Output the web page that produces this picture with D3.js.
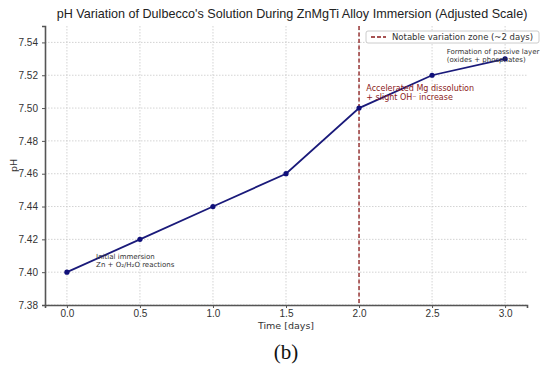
<!DOCTYPE html>
<html>
<head>
<meta charset="utf-8">
<script src="https://cdn.jsdelivr.net/npm/d3@7"></script>
<style>
  body { margin: 0; background: #fff; }
  svg { display: block; font-family: "DejaVu Sans", sans-serif; }
</style>
</head>
<body>
<svg id="chart" width="545" height="366"></svg>
<script>
const days = [0, 0.5, 1.0, 1.5, 2.0, 2.5, 3.0];
const ph = [7.40, 7.42, 7.44, 7.46, 7.50, 7.52, 7.53];
const xTicks = [0, 0.5, 1.0, 1.5, 2.0, 2.5, 3.0];
const yTicks = [7.38, 7.40, 7.42, 7.44, 7.46, 7.48, 7.50, 7.52, 7.54];
const markerDay = 2.0;

const svg = d3.select("#chart");
const mLeft = 45, mRight = 527, mTop = 26, mBottom = 305;

const x = d3.scaleLinear().domain([-0.15, 3.15]).range([mLeft, mRight]);
const y = d3.scaleLinear().domain([7.38, 7.55]).range([mBottom, mTop]);

// grid
svg.append("g").selectAll("line")
  .data(xTicks).enter().append("line")
  .attr("x1", d => x(d)).attr("x2", d => x(d))
  .attr("y1", mTop).attr("y2", mBottom)
  .attr("stroke", "#c8c8c8").attr("stroke-width", 0.8)
  .attr("stroke-dasharray", "1.5,1.5");
svg.append("g").selectAll("line")
  .data(yTicks).enter().append("line")
  .attr("x1", mLeft).attr("x2", mRight)
  .attr("y1", d => y(d)).attr("y2", d => y(d))
  .attr("stroke", "#c8c8c8").attr("stroke-width", 0.8)
  .attr("stroke-dasharray", "1.5,1.5");

// axes
const xAxis = svg.append("g")
  .attr("transform", "translate(0," + mBottom + ")")
  .call(d3.axisBottom(x).tickValues(xTicks).tickFormat(d3.format(".1f")).tickSize(3).tickPadding(2));
const yAxis = svg.append("g")
  .attr("transform", "translate(" + mLeft + ",0)")
  .call(d3.axisLeft(y).tickValues(yTicks).tickFormat(d3.format(".2f")).tickSize(3).tickPadding(4));
[xAxis, yAxis].forEach(a => {
  a.select(".domain").attr("stroke", "#555").attr("stroke-width", 1.6);
  a.selectAll(".tick line").attr("stroke", "#555");
  a.selectAll("text").attr("fill", "#333").style("font-size", "10px");
});

// notable zone line
svg.append("line")
  .attr("x1", x(markerDay)).attr("x2", x(markerDay))
  .attr("y1", mTop).attr("y2", mBottom)
  .attr("stroke", "#8b1a1a").attr("stroke-width", 1.3)
  .attr("stroke-dasharray", "4,2.5");

// data line
const line = d3.line().x((d, i) => x(days[i])).y(d => y(d));
svg.append("path")
  .datum(ph)
  .attr("d", line)
  .attr("fill", "none")
  .attr("stroke", "#1a1a7a")
  .attr("stroke-width", 1.8);
svg.selectAll("circle.pt")
  .data(ph).enter().append("circle")
  .attr("class", "pt")
  .attr("cx", (d, i) => x(days[i]))
  .attr("cy", d => y(d))
  .attr("r", 2.6)
  .attr("fill", "#10107a");

// annotations
function note(lines, xv, yv, dx, dy, color, size) {
  const t = svg.append("text")
    .attr("x", x(xv) + dx).attr("y", y(yv) + dy)
    .attr("fill", color).style("font-size", size + "px");
  lines.forEach((s, i) => {
    t.append("tspan").attr("x", x(xv) + dx).attr("dy", i === 0 ? 0 : size * 1.15).text(s);
  });
}
note(["Initial immersion", "Zn + O\u2082/H\u2082O reactions"], 0.2, 7.41, 0, 3, "#333", 7);
note(["Accelerated Mg dissolution", "+ slight OH\u207B increase"], 2.05, 7.51, 0, -1, "#8b1a1a", 8);
note(["Formation of passive layer", "(oxides + phosphates)"], 2.6, 7.535, 0, 3, "#333", 7);

// legend
const lg = svg.append("g").attr("transform", "translate(366,31)");
lg.append("rect").attr("width", 173).attr("height", 12).attr("rx", 2)
  .attr("fill", "#fff").attr("stroke", "#ccc");
lg.append("line").attr("x1", 5).attr("x2", 20).attr("y1", 6).attr("y2", 6)
  .attr("stroke", "#8b1a1a").attr("stroke-width", 1.3).attr("stroke-dasharray", "4,2");
lg.append("text").attr("x", 26).attr("y", 9).style("font-size", "8.5px").attr("fill", "#333")
  .text("Notable variation zone (~2 days)");

// titles
svg.append("text").attr("x", 292).attr("y", 18).attr("text-anchor", "middle")
  .style("font-family", "'Liberation Sans', Arial, sans-serif")
  .style("font-size", "12.6px").attr("fill", "#222")
  .text("pH Variation of Dulbecco's Solution During ZnMgTi Alloy Immersion (Adjusted Scale)");
svg.append("text").attr("x", x(1.5)).attr("y", 329).attr("text-anchor", "middle")
  .style("font-size", "9.5px").attr("fill", "#333").text("Time [days]");
svg.append("text").attr("transform", "translate(17," + y(7.465) + ") rotate(-90)")
  .attr("text-anchor", "middle").style("font-size", "9.5px").attr("fill", "#333").text("pH");
svg.append("text").attr("x", x(1.5)).attr("y", 359).attr("text-anchor", "middle")
  .style("font-family", "'Liberation Serif', serif").style("font-size", "21px").attr("fill", "#111")
  .text("(b)");
</script>
</body>
</html>
